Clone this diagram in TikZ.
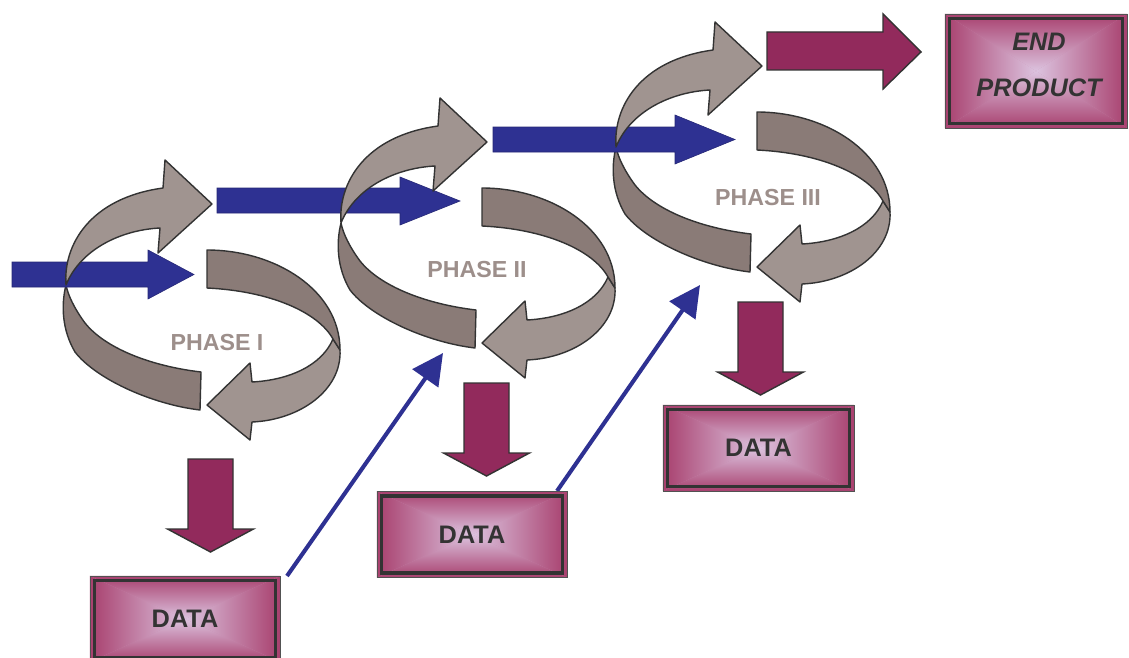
\documentclass[tikz,border=0pt]{standalone}
\usepackage{fontspec}
\setmainfont{Liberation Sans}
\usetikzlibrary{arrows.meta}

\definecolor{bandlight}{HTML}{A09490}
\definecolor{banddark}{HTML}{8A7B77}
\definecolor{flowblue}{HTML}{2E3192}
\definecolor{wine}{HTML}{922A5C}
\definecolor{boxedge}{HTML}{A8406E}
\definecolor{boxmid}{HTML}{DCC3DF}
\definecolor{boxhalf}{HTML}{C98AB0}
\definecolor{ink}{HTML}{333333}
\definecolor{phasegray}{HTML}{9D8F8B}

\tikzset{
  band/.style={draw=ink, line width=1pt, line join=round},
  droparrow/.style={draw=ink, line width=1pt, fill=wine},
  flowarrow/.style={fill=flowblue, draw=flowblue!80!black, line width=0.4pt},
  link/.style={draw=flowblue, line width=2.9pt, -{Triangle[length=22pt,width=22pt]}},
  phase/.style={font=\bfseries\fontsize{16.5}{18}\selectfont, text=phasegray},
  databox/.style={rectangle, draw=ink!85, line width=0.6pt, inner sep=0pt,
    minimum width=4.75cm, minimum height=2.15cm,
    font=\bfseries\fontsize{18}{20}\selectfont, text=ink,
    path picture={
      \path (path picture bounding box.north west) coordinate (pnw)
            (path picture bounding box.north east) coordinate (pne)
            (path picture bounding box.south west) coordinate (psw)
            (path picture bounding box.south east) coordinate (pse)
            (path picture bounding box.center) coordinate (pc);
      \fill[boxhalf] (pnw) rectangle (pse);
      \shade[top color=boxedge, middle color=boxhalf, bottom color=boxmid] (pnw) -- (pne) -- (pc) -- cycle;
      \shade[bottom color=boxedge, middle color=boxhalf, top color=boxmid] (psw) -- (pse) -- (pc) -- cycle;
      \shade[left color=boxedge, middle color=boxhalf, right color=boxmid] (pnw) -- (psw) -- (pc) -- cycle;
      \shade[right color=boxedge, middle color=boxhalf, left color=boxmid] (pne) -- (pse) -- (pc) -- cycle;
      \draw[ink, line width=2.2pt] ([shift={(3.2pt,-3.2pt)}]pnw) rectangle ([shift={(-3.2pt,3.2pt)}]pse);
    }},
  % lower-left band and right-hand band of one phase loop
  pics/loopback/.style={code={
    \filldraw[band, fill=banddark] (66,285) .. controls (61,305) and (62,330) .. (75,352)
      .. controls (95,378) and (150,404) .. (200,410) -- (201,372)
      .. controls (150,366) and (105,348) .. (85,323)
      .. controls (74,308) and (68,295) .. (66,285) -- cycle;
    \filldraw[band, fill=bandlight] (333,339) -- (340,350)
      .. controls (342,390) and (300,420) .. (252,422) -- (250,440) -- (207,405)
      -- (250,363) -- (252,382) .. controls (290,380) and (322,365) .. (333,339) -- cycle;
    \filldraw[band, fill=banddark] (207,250) .. controls (275,250) and (340,290) .. (340,350)
      -- (333,339) .. controls (318,312) and (270,291) .. (207,288) -- cycle;
  }},
  % upper band ending in the forward arrow head
  pics/loopfront/.style={code={
    \filldraw[band, fill=bandlight] (66,285) .. controls (63,245) and (90,198) .. (163,188)
      -- (165,160) -- (212,204) -- (158,253) -- (160,228)
      .. controls (120,230) and (80,250) .. (66,285) -- cycle;
  }},
  pics/dropdown/.style={code={
    \filldraw[droparrow] (-22.5,0) -- (22.5,0) -- (22.5,70) -- (43,70) -- (0,93)
      -- (-43,70) -- (-22.5,70) -- cycle;
  }}
}

\begin{document}
\begin{tikzpicture}[x=0.025cm, y=-0.025cm]
\path[use as bounding box] (0,0) rectangle (1129,657);
\clip (0,0) rectangle (1129,657);

% back parts of the three loops
\pic at (0,0) {loopback};
\pic at (275,-62) {loopback};
\pic at (550,-138) {loopback};

% blue flow arrows through the loops
\filldraw[flowarrow] (12,262) -- (148,262) -- (148,250) -- (194,274.5) -- (148,299) -- (148,287) -- (12,287) -- cycle;
\filldraw[flowarrow] (217,188) -- (400,188) -- (400,177) -- (460,201) -- (400,225) -- (400,213) -- (217,213) -- cycle;
\filldraw[flowarrow] (493,127) -- (675,127) -- (675,115) -- (735,139.5) -- (675,164) -- (675,152) -- (493,152) -- cycle;

% front parts of the loops
\pic at (0,0) {loopfront};
\pic at (275,-62) {loopfront};
\pic at (550,-138) {loopfront};

% phase labels
\node[phase] (p1) at (217,343) {PHASE I};
\node[phase] (p2) at (477,270) {PHASE II};
\node[phase] (p3) at (768,198) {PHASE III};

% output arrows
\pic at (210.5,459) {dropdown};
\pic at (486.5,383) {dropdown};
\pic at (760.5,302) {dropdown};
\filldraw[droparrow] (767,32) -- (883,32) -- (883,14) -- (921,52) -- (883,89) -- (883,70) -- (767,70) -- cycle;

% data fed forward into the next phase
\coordinate (l1s) at (287,576);
\coordinate (l1e) at (443,353);
\coordinate (l2s) at (557,491);
\coordinate (l2e) at (700,285);
\draw[link] (l1s) -- (l1e);
\draw[link] (l2s) -- (l2e);

% data boxes and the end product
\node[databox] (d1) at (185,619) {DATA};
\node[databox] (d2) at (472,534.5) {DATA};
\node[databox, minimum width=4.775cm] (d3) at (758.5,448) {DATA};
\node[databox, minimum width=4.55cm, minimum height=2.85cm] (ep) at (1036,71) {};
\node[font=\bfseries\itshape\fontsize{18}{32.5}\selectfont, text=ink, align=center] (ept) at (1039,65) {END\\PRODUCT};
\end{tikzpicture}
\end{document}
